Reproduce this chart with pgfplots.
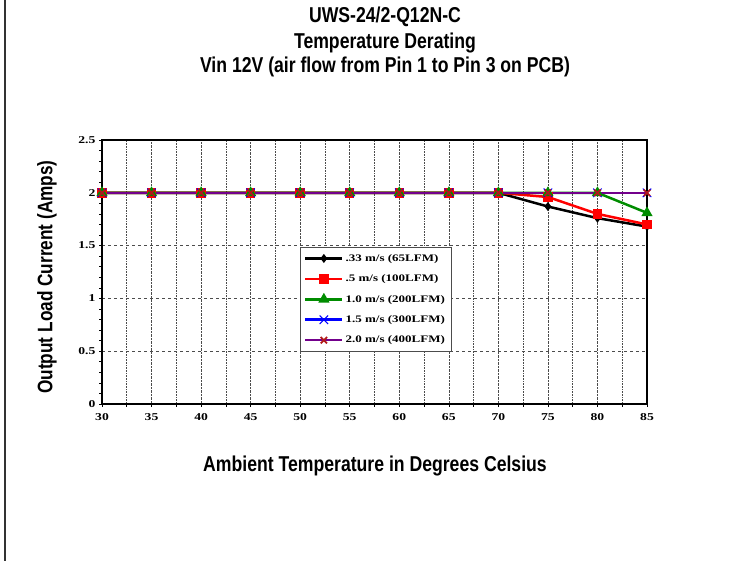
\documentclass[border=0pt]{standalone}
\usepackage{fontspec}
\setmainfont{Liberation Serif}
\newfontfamily\narrow{Liberation Sans}[FakeStretch=0.82]
\newfontfamily\wide{Liberation Serif}[FakeStretch=1.3]
\usepackage{pgfplots}
\pgfplotsset{compat=1.18}
\definecolor{c33}{rgb}{0,0,0}
\definecolor{c50}{rgb}{1,0,0}
\definecolor{c10}{rgb}{0.0,0.55,0.0}
\definecolor{c15}{rgb}{0,0,1}
\definecolor{c20}{rgb}{0.45,0,0.55}
\definecolor{cx}{rgb}{0.7,0.1,0.1}
\begin{document}
\begin{tikzpicture}[x=1pt,y=1pt]
\useasboundingbox (0,0) rectangle (741,561);
\draw[line width=1.8pt, black!80] (5,0) -- (5,561);
\node[font=\narrow\bfseries\fontsize{21.5}{24}\selectfont] at (385,544) {UWS-24/2-Q12N-C};
\node[font=\narrow\bfseries\fontsize{21.5}{24}\selectfont] at (385,518) {Temperature Derating};
\node[font=\narrow\bfseries\fontsize{21.5}{24}\selectfont] at (385,494) {Vin 12V (air flow from Pin 1 to Pin 3 on PCB)};
\node[font=\narrow\bfseries\fontsize{21.5}{24}\selectfont] at (375,95) {Ambient Temperature in Degrees Celsius};
\node[font=\narrow\bfseries\fontsize{21}{24}\selectfont, rotate=90] at (47,284) {Output Load Current (Amps)};
\begin{axis}[
  at={(102pt,157pt)}, anchor=south west,
  width=545pt, height=264pt, scale only axis,
  xmin=30, xmax=85, ymin=0, ymax=2.5,
  xtick={30,35,...,85}, ytick={0,0.5,1,1.5,2,2.5},
  yticklabels={0,0.5,1,1.5,2,2.5},
  minor x tick num=1, minor y tick num=4,
  tick align=outside, major tick length=3pt, minor tick length=3pt,
  xtick pos=bottom, ytick pos=left,
  xticklabel style={yshift=-3pt},
  xmajorgrids, xminorgrids, ymajorgrids,
  x grid style={densely dotted, black!70, line width=0.6pt},
  minor x grid style={densely dotted, black!70, line width=0.6pt},
  y grid style={dashed, black!70, line width=0.5pt},
  axis line style={line width=1.2pt},
  tick style={black, line width=0.6pt},
  ticklabel style={font=\wide\bfseries\fontsize{10.5}{12}\selectfont},
  /pgf/number format/assume math mode=true,
  legend style={at={(0.363,0.595)}, anchor=north west, draw=black!70, line width=0.6pt,
    font=\wide\bfseries\fontsize{10}{11}\selectfont, row sep=8pt, inner xsep=4pt, inner ysep=5pt},
  legend cell align=left,
  legend image post style={line width=2.5pt},
  legend image code/.code={\draw[#1] (0cm,0cm) -- (1.3cm,0cm) plot coordinates {(0.65cm,0cm)};},
  clip=false,
]
\addplot[c33, line width=2.5pt, mark=diamond*, mark size=2.5pt, mark options={solid}] coordinates {
(30,2)(35,2)(40,2)(45,2)(50,2)(55,2)(60,2)(65,2)(70,2)(75,1.87)(80,1.76)(85,1.68)};
\addlegendentry{.33 m/s (65LFM)}
\addplot[c50, line width=2.5pt, mark=square*, mark size=3.5pt] coordinates {
(30,2)(35,2)(40,2)(45,2)(50,2)(55,2)(60,2)(65,2)(70,2)(75,1.96)(80,1.80)(85,1.70)};
\addlegendentry{.5 m/s (100LFM)}
\addplot[c10, line width=2.5pt, mark=triangle*, mark size=4pt] coordinates {
(30,2)(35,2)(40,2)(45,2)(50,2)(55,2)(60,2)(65,2)(70,2)(75,2)(80,2)(85,1.81)};
\addlegendentry{1.0 m/s (200LFM)}
\addplot[c15, line width=2.5pt, mark=x, mark size=6pt, mark options={line width=1pt}] coordinates {
(30,2)(35,2)(40,2)(45,2)(50,2)(55,2)(60,2)(65,2)(70,2)(75,2)(80,2)(85,2)};
\addlegendentry{1.5 m/s (300LFM)}
\addplot[c20, line width=2.5pt, mark=x, mark size=4.5pt, mark options={cx, line width=1.8pt}] coordinates {
(30,2)(35,2)(40,2)(45,2)(50,2)(55,2)(60,2)(65,2)(70,2)(75,2)(80,2)(85,2)};
\addlegendentry{2.0 m/s (400LFM)}
\end{axis}
\end{tikzpicture}
\end{document}
